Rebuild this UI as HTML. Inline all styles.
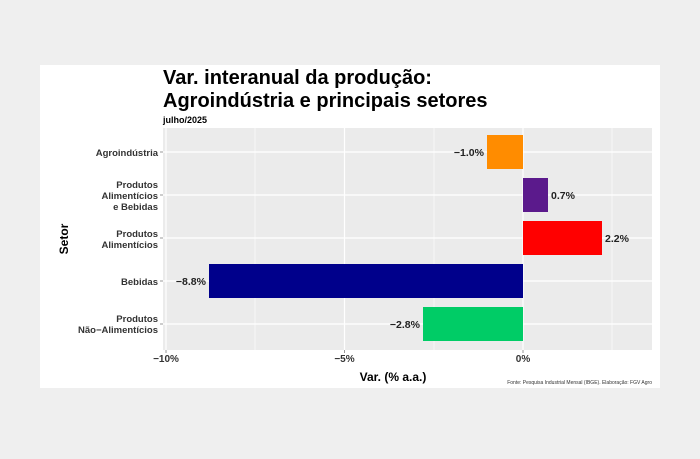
<!DOCTYPE html>
<html><head><meta charset="utf-8"><style>
body{margin:0;width:700px;height:454px;background:#efefef;overflow:hidden}
</style></head><body>
<svg width="700" height="454" xmlns="http://www.w3.org/2000/svg" font-family="Liberation Sans, sans-serif">
<rect x="0" y="0" width="700" height="454" fill="#efefef"/>
<rect x="40" y="65" width="620" height="323" fill="#fff"/>
<text x="163" y="84" font-size="20" font-weight="bold" fill="#000">Var. interanual da produção:</text>
<text x="163" y="107" font-size="20" font-weight="bold" fill="#000">Agroindústria e principais setores</text>
<text x="163" y="123" font-size="9" font-weight="bold" fill="#000">julho/2025</text>
<rect x="163" y="128" width="489" height="222" fill="#ebebeb"/>
<g stroke="#fff" stroke-width="0.6">
<line x1="255" y1="128" x2="255" y2="350"/><line x1="434" y1="128" x2="434" y2="350"/><line x1="612" y1="128" x2="612" y2="350"/>
</g>
<g stroke="#fff" stroke-width="1.2">
<line x1="166" y1="128" x2="166" y2="350"/><line x1="344.5" y1="128" x2="344.5" y2="350"/><line x1="523" y1="128" x2="523" y2="350"/>
<line x1="163" y1="152" x2="652" y2="152"/><line x1="163" y1="195" x2="652" y2="195"/><line x1="163" y1="238" x2="652" y2="238"/><line x1="163" y1="281" x2="652" y2="281"/><line x1="163" y1="324" x2="652" y2="324"/>
</g>
<g stroke="#555" stroke-width="0.6">
<line x1="160" y1="152" x2="163" y2="152"/><line x1="160" y1="195" x2="163" y2="195"/><line x1="160" y1="238" x2="163" y2="238"/><line x1="160" y1="281" x2="163" y2="281"/><line x1="160" y1="324" x2="163" y2="324"/>
<line x1="166" y1="350" x2="166" y2="353"/><line x1="344.5" y1="350" x2="344.5" y2="353"/><line x1="523" y1="350" x2="523" y2="353"/>
</g>
<rect x="487" y="135" width="36" height="34" fill="#FF8C00"/>
<rect x="523" y="178" width="25" height="34" fill="#5B1A8C"/>
<rect x="523" y="221" width="79" height="34" fill="#FF0000"/>
<rect x="209" y="264" width="314" height="34" fill="#00008B"/>
<rect x="423" y="307" width="100" height="34" fill="#00CC66"/>
<g font-size="10.5" font-weight="bold" fill="#222">
<text x="484" y="156" text-anchor="end">−1.0%</text>
<text x="551" y="199">0.7%</text>
<text x="605" y="242">2.2%</text>
<text x="206" y="285" text-anchor="end">−8.8%</text>
<text x="420" y="328" text-anchor="end">−2.8%</text>
</g>
<g font-size="9.5" font-weight="bold" fill="#333" text-anchor="end">
<text x="158" y="156">Agroindústria</text>
<text x="158" y="188">Produtos</text><text x="158" y="199">Alimentícios</text><text x="158" y="210">e Bebidas</text>
<text x="158" y="237">Produtos</text><text x="158" y="248">Alimentícios</text>
<text x="158" y="285">Bebidas</text>
<text x="158" y="322">Produtos</text><text x="158" y="333">Não−Alimentícios</text>
</g>
<g font-size="10" font-weight="bold" fill="#333" text-anchor="middle">
<text x="166" y="362">−10%</text><text x="344.5" y="362">−5%</text><text x="523" y="362">0%</text>
</g>
<text x="393" y="381" font-size="12" font-weight="bold" text-anchor="middle">Var. (% a.a.)</text>
<text x="68" y="239" font-size="12" font-weight="bold" text-anchor="middle" transform="rotate(-90 68 239)">Setor</text>
<text x="652" y="384" font-size="5" fill="#333" text-anchor="end">Fonte: Pesquisa Industrial Mensal (IBGE). Elaboração: FGV Agro</text>
</svg>
</body></html>
